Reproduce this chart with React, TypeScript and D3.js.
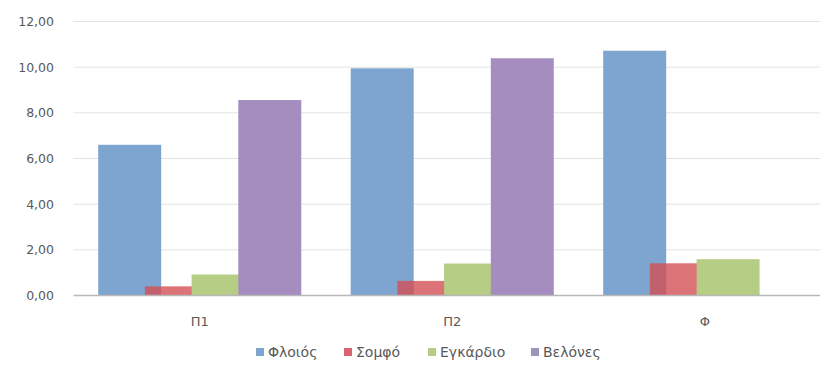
import React from "react";
import * as d3 from "d3";

const categories = ["Π1", "Π2", "Φ"];
const seriesNames = ["Φλοιός", "Σομφό", "Εγκάρδιο", "Βελόνες"];
const floios = [6.6, 9.95, 10.72];
const somfo = [0.4, 0.64, 1.41];
const egkardio = [0.92, 1.4, 1.59];
const belones = [8.56, 10.39, 0];
const yTicks = [0, 2, 4, 6, 8, 10, 12];

const seriesValues = [floios, somfo, egkardio, belones];
const colors = ["#7ea4d0", "rgba(211,80,84,0.8)", "#b6cd86", "#a58ebf"];
const legendColors = ["#7ea4d0", "#dc6275", "#b6cd86", "#9e92b8"];

const W = 820;
const H = 371;
const FONT = "'DejaVu Sans', Verdana, sans-serif";

export default function App() {
  const x = d3.scaleBand<string>().domain(categories).range([73.5, 831]).paddingInner(0).paddingOuter(0);
  const y = d3.scaleLinear().domain([0, 12]).range([295.5, 21.5]);
  const bw = x.bandwidth();
  const barW = 63;
  const step = 46.7;
  const groupW = step * 3 + barW;
  const pad = (bw - groupW) / 2;
  const fmt = (v: number) => v.toFixed(2).replace(".", ",");

  const legendItems = [
    { x: 256, tx: 268 },
    { x: 344, tx: 356 },
    { x: 428, tx: 440 },
    { x: 531, tx: 543 },
  ];

  return (
    <div style={{ position: "absolute", left: 0, top: 0 }}>
      <svg width={W} height={H} style={{ display: "block", background: "#fff" }}>
        {yTicks.map((t) => (
          <g key={t}>
            {t !== 0 && (
              <line x1={73.5} x2={W} y1={y(t)} y2={y(t)} stroke="#e3e3e3" strokeWidth={1} />
            )}
            <text
              x={54}
              y={y(t)}
              dy="0.35em"
              textAnchor="end"
              fontFamily={FONT}
              fontSize={12.5}
              fill="#595959"
            >
              {fmt(t)}
            </text>
          </g>
        ))}
        {seriesValues.map((vals, si) => (
          <g key={si}>
            {categories.map((c, ci) => {
              const v = vals[ci];
              if (v <= 0) return null;
              const bx = (x(c) as number) + pad + si * step;
              return (
                <rect
                  key={c}
                  x={bx}
                  y={y(v)}
                  width={barW}
                  height={y(0) - y(v)}
                  fill={colors[si]}
                />
              );
            })}
          </g>
        ))}
        <line x1={73.5} x2={W} y1={y(0)} y2={y(0)} stroke="#b8b8b8" strokeWidth={1.5} />
        {categories.map((c) => (
          <text
            key={c}
            x={(x(c) as number) + bw / 2}
            y={326}
            textAnchor="middle"
            fontFamily={FONT}
            fontSize={13}
            fill="#595959"
          >
            {c}
          </text>
        ))}
        {seriesNames.map((n, i) => (
          <g key={n}>
            <rect x={legendItems[i].x} y={348} width={8} height={8} fill={legendColors[i]} />
            <text
              x={legendItems[i].tx}
              y={356.5}
              fontFamily={FONT}
              fontSize={14}
              fill="#595959"
            >
              {n}
            </text>
          </g>
        ))}
      </svg>
    </div>
  );
}
